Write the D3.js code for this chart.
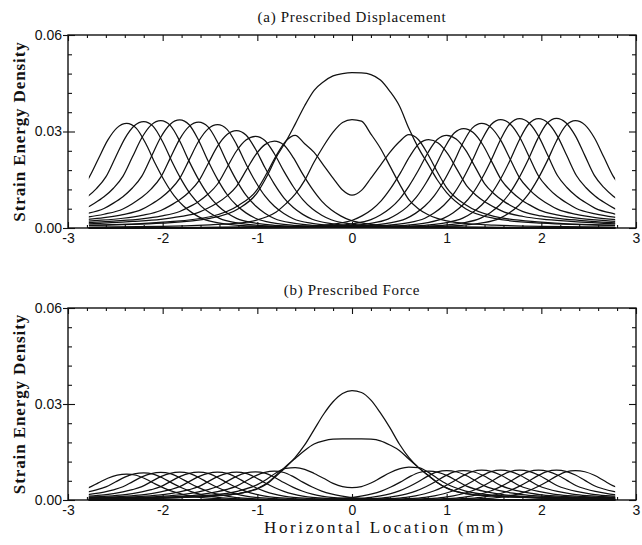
<!DOCTYPE html>
<html><head><meta charset="utf-8">
<script src="https://cdn.jsdelivr.net/npm/d3@7"></script>
<style>
html,body{margin:0;padding:0;background:#fff;}
svg{display:block;}
</style></head>
<body>
<svg id="chart" width="642" height="545"></svg>
<script>
// ---------------- data ----------------
const titles = ["(a) Prescribed Displacement", "(b) Prescribed Force"];
const xLabel = "Horizontal Location (mm)";
const yLabel = "Strain Energy Density";
const xTicks = [-3, -2, -1, 0, 1, 2, 3];
const yTicks = [0, 0.03, 0.06];
const yTickLabels = ["0.00", "0.03", "0.06"];
const xDomain = [-3, 3];
const yDomain = [0, 0.06];
const curveExtent = [-2.78, 2.78];

// shape of one load-position curve: offset from peak (mm) and relative height
const profileOffset = [0, 0.1, 0.2, 0.3, 0.4, 0.5, 0.6, 0.7, 0.8, 1.0, 1.2, 1.5, 2.0, 3.0, 4.0, 5.6];
const profileInner  = [1, 0.955, 0.81, 0.62, 0.45, 0.31, 0.21, 0.14, 0.09, 0.045, 0.025, 0.014, 0.008, 0.004, 0.002, 0];
const profileOuter  = [1, 0.96, 0.84, 0.66, 0.48, 0.37, 0.29, 0.23, 0.18, 0.13, 0.10, 0.075, 0.045, 0.02, 0.01, 0];

// peak locations of the off-centre curves
const peakPositions = [-2.38, -2.2, -2.02, -1.82, -1.62, -1.42, -1.22, -1.02, -0.82,
                        0.81, 1.0, 1.18, 1.37, 1.57, 1.77, 1.97, 2.16, 2.36];
const peaksDisplacement = [0.0325, 0.0331, 0.0334, 0.0336, 0.0329, 0.0321, 0.0303, 0.0285, 0.0270,
                           0.0275, 0.0288, 0.0309, 0.0325, 0.0337, 0.0340, 0.0340, 0.0341, 0.0334];
const peaksForce = [0.0081, 0.0085, 0.0086, 0.0087, 0.0087, 0.0087, 0.0087, 0.0088, 0.0090,
                    0.0090, 0.0092, 0.0092, 0.0093, 0.0093, 0.0093, 0.0093, 0.0093, 0.0092];

// central curves sampled on a common grid
const centerGrid = [-2.78, -2.0, -1.5, -1.2, -1.0, -0.9, -0.8, -0.7, -0.6, -0.5, -0.4, -0.3, -0.2, -0.1, 0,
                    0.1, 0.2, 0.3, 0.4, 0.5, 0.6, 0.7, 0.8, 0.9, 1.0, 1.2, 1.5, 2.0, 2.78];
const dispCenterTop = [0.0008, 0.0015, 0.003, 0.006, 0.011, 0.016, 0.022, 0.0268, 0.0323, 0.038, 0.0428, 0.0455, 0.0473, 0.048, 0.0483,
                       0.0482, 0.0477, 0.046, 0.0425, 0.038, 0.031, 0.025, 0.02, 0.015, 0.011, 0.006, 0.003, 0.0015, 0.0008];
const dispCenterMid = [0.0003, 0.0005, 0.001, 0.0015, 0.0025, 0.0035, 0.005, 0.0075, 0.0105, 0.0148, 0.0205, 0.0255, 0.0298, 0.0328, 0.0337,
                       0.0332, 0.0292, 0.0248, 0.0193, 0.0138, 0.0088, 0.006, 0.0042, 0.003, 0.0022, 0.0014, 0.0009, 0.0005, 0.0003];
const dispCenterLow = [0.0008, 0.0018, 0.0035, 0.007, 0.012, 0.017, 0.0225, 0.027, 0.0288, 0.0262, 0.0235, 0.0195, 0.0155, 0.0118, 0.0102,
                       0.0117, 0.0155, 0.0195, 0.0235, 0.0268, 0.029, 0.0275, 0.023, 0.0175, 0.0125, 0.0072, 0.0036, 0.0018, 0.0008];
const forceCenterTop = [0.0003, 0.0006, 0.0012, 0.002, 0.0035, 0.005, 0.0075, 0.0102, 0.0133, 0.0172, 0.022, 0.0268, 0.0307, 0.0333, 0.0342,
                        0.0336, 0.0312, 0.0272, 0.0226, 0.0175, 0.0133, 0.0102, 0.0078, 0.0055, 0.0038, 0.002, 0.0012, 0.0006, 0.0003];
const forceCenterMid = [0.0003, 0.0006, 0.0012, 0.002, 0.0036, 0.0052, 0.0078, 0.0105, 0.013, 0.0155, 0.0175, 0.0185, 0.019, 0.0191, 0.0191,
                        0.0191, 0.019, 0.0185, 0.0172, 0.0155, 0.0128, 0.0102, 0.0078, 0.0055, 0.0037, 0.002, 0.0012, 0.0006, 0.0003];
const forceCenterLow = [0.0004, 0.0008, 0.0015, 0.0028, 0.0048, 0.0065, 0.0085, 0.0099, 0.0101, 0.0096, 0.0083, 0.0068, 0.0052, 0.0042, 0.0039,
                        0.0042, 0.0053, 0.0069, 0.0085, 0.0097, 0.0103, 0.0101, 0.0088, 0.0068, 0.005, 0.0028, 0.0015, 0.0008, 0.0004];

// ---------------- drawing ----------------
const svg = d3.select("#chart");
const x = d3.scaleLinear().domain(xDomain).range([68, 636]);
const xMinor = d3.range(-3, 3.0001, 0.2).map(v => +v.toFixed(1)).filter(v => !xTicks.includes(v));
const yMinor = d3.range(0, 0.0601, 0.006).map(v => +v.toFixed(3)).filter(v => !yTicks.includes(v));

const panels = [
  {title: titles[0], top: 35, bottom: 228, peaks: peaksDisplacement,
   center: [dispCenterTop, dispCenterMid, dispCenterLow], xlab: false},
  {title: titles[1], top: 308, bottom: 500, peaks: peaksForce,
   center: [forceCenterTop, forceCenterMid, forceCenterLow], xlab: true}
];

function familyCurve(px, py) {
  const s = px < 0 ? -1 : 1; // outer side direction
  const pts = [];
  for (let i = 0; i < profileOffset.length; i++) {
    pts.push([px + s * profileOffset[i], py * profileOuter[i]]);
    if (i > 0) pts.push([px - s * profileOffset[i], py * profileInner[i]]);
  }
  pts.sort((a, b) => a[0] - b[0]);
  return pts;
}

const serif = "'Liberation Serif','Times New Roman',serif";
const sans = "'Liberation Sans',Arial,Helvetica,sans-serif";

panels.forEach((p, pi) => {
  const y = d3.scaleLinear().domain(yDomain).range([p.bottom, p.top]);
  const g = svg.append("g");
  const clipId = "clip" + pi;
  svg.append("clipPath").attr("id", clipId).append("rect")
    .attr("x", x(curveExtent[0])).attr("y", p.top)
    .attr("width", x(curveExtent[1]) - x(curveExtent[0]))
    .attr("height", p.bottom - p.top + 1);

  const line = d3.line().x(d => x(d[0])).y(d => y(d[1])).curve(d3.curveMonotoneX);
  const curves = g.append("g").attr("clip-path", `url(#${clipId})`);

  peakPositions.forEach((px, i) => {
    curves.append("path").attr("d", line(familyCurve(px, p.peaks[i])))
      .attr("fill", "none").attr("stroke", "#111").attr("stroke-width", 1.25);
  });
  p.center.forEach(vals => {
    curves.append("path").attr("d", line(centerGrid.map((cx, i) => [cx, vals[i]])))
      .attr("fill", "none").attr("stroke", "#111").attr("stroke-width", 1.25);
  });

  // axes
  const axStyle = sel => {
    sel.select(".domain").remove();
    sel.selectAll("line").attr("stroke", "#111").attr("stroke-width", 1.1);
    sel.selectAll("text").attr("font-family", sans).attr("font-size", 14).attr("fill", "#111");
  };
  g.append("g").attr("transform", `translate(0,${p.bottom})`)
    .call(d3.axisBottom(x).tickValues(xTicks).tickSize(-6).tickPadding(5)
      .tickFormat(d => String(d))).call(axStyle);
  g.append("g").attr("transform", `translate(0,${p.bottom})`)
    .call(d3.axisBottom(x).tickValues(xMinor).tickSize(-3).tickFormat("")).call(axStyle);
  g.append("g").attr("transform", `translate(0,${p.top})`)
    .call(d3.axisTop(x).tickValues(xTicks).tickSize(-6).tickFormat("")).call(axStyle);
  g.append("g").attr("transform", `translate(0,${p.top})`)
    .call(d3.axisTop(x).tickValues(xMinor).tickSize(-3).tickFormat("")).call(axStyle);

  g.append("g").attr("transform", `translate(${x(-3)},0)`)
    .call(d3.axisLeft(y).tickValues(yTicks).tickSize(5).tickPadding(1)
      .tickFormat((d, i) => yTickLabels[i])).call(axStyle);
  g.append("g").attr("transform", `translate(${x(-3)},0)`)
    .call(d3.axisLeft(y).tickValues(yTicks).tickSize(-7).tickFormat("")).call(axStyle);
  g.append("g").attr("transform", `translate(${x(-3)},0)`)
    .call(d3.axisLeft(y).tickValues(yMinor).tickSize(-4).tickFormat("")).call(axStyle);
  g.append("g").attr("transform", `translate(${x(3)},0)`)
    .call(d3.axisRight(y).tickValues(yTicks).tickSize(-7).tickFormat("")).call(axStyle);
  g.append("g").attr("transform", `translate(${x(3)},0)`)
    .call(d3.axisRight(y).tickValues(yMinor).tickSize(-4).tickFormat("")).call(axStyle);

  // frame
  g.append("rect").attr("x", x(-3)).attr("y", p.top)
    .attr("width", x(3) - x(-3)).attr("height", p.bottom - p.top)
    .attr("fill", "none").attr("stroke", "#111").attr("stroke-width", 1.4);

  // title
  svg.append("text").attr("x", 352).attr("y", p.top - 13)
    .attr("text-anchor", "middle").attr("font-family", serif).attr("font-size", 15)
    .attr("letter-spacing", 0.7).attr("fill", "#111").text(p.title);

  // y label
  svg.append("text")
    .attr("transform", `translate(25,${(p.top + p.bottom) / 2}) rotate(-90)`)
    .attr("text-anchor", "middle").attr("font-family", serif).attr("font-size", 17)
    .attr("font-weight", "bold").attr("letter-spacing", 0.9).attr("fill", "#111").text(yLabel);

  if (p.xlab) {
    svg.append("text").attr("x", 385).attr("y", 533)
      .attr("text-anchor", "middle").attr("font-family", serif).attr("font-size", 17)
      .attr("letter-spacing", 2.6).attr("fill", "#111").text(xLabel);
  }
});
</script>
</body></html>
